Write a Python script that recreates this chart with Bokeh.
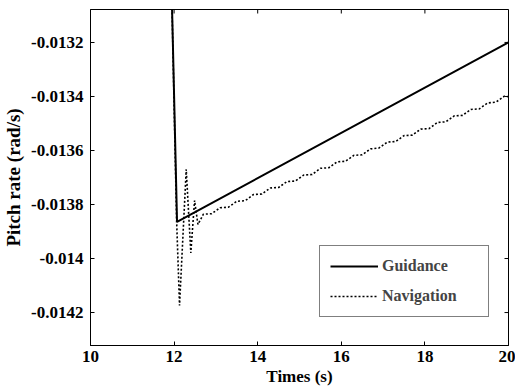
from bokeh.plotting import figure
from bokeh.models import FixedTicker, Legend, LegendItem, Range1d
from bokeh.embed import file_html
from bokeh.resources import INLINE
import math

# ---- data ----
guid_t = [11.94, 12.07, 20.0]
guid_q = [-0.01300, -0.013864, -0.0132]

nav_t = [11.94, 12.06, 12.13, 12.29, 12.40, 12.49, 12.57,
         12.7, 12.9, 13.1, 13.3, 13.5, 13.7, 13.9, 14.1, 14.3, 14.5,
         14.7, 14.9, 15.1, 15.3, 15.5, 15.7, 15.9, 16.1, 16.3, 16.5,
         16.7, 16.9, 17.1, 17.3, 17.5, 17.7, 17.9, 18.1, 18.3, 18.5,
         18.7, 18.9, 19.1, 19.3, 19.5, 19.7, 19.9, 20.0]
nav_q = [-0.01300, -0.01386, -0.014174, -0.01367, -0.013979, -0.013785, -0.013874,
         -0.013836, -0.013834, -0.013812, -0.013810, -0.013788, -0.013786, -0.013763,
         -0.013761, -0.013739, -0.013737, -0.013715, -0.013713, -0.013691, -0.013689,
         -0.013666, -0.013664, -0.013642, -0.013640, -0.013618, -0.013616, -0.013594,
         -0.013591, -0.013569, -0.013567, -0.013545, -0.013543, -0.013521, -0.013519,
         -0.013496, -0.013494, -0.013472, -0.013470, -0.013448, -0.013446, -0.013424,
         -0.013421, -0.013399, -0.013401]

x_ticks = [10, 12, 14, 16, 18, 20]
y_ticks = [-0.0142, -0.014, -0.0138, -0.0136, -0.0134, -0.0132]
y_tick_labels = ["-0.0142", "-0.014", "-0.0138", "-0.0136", "-0.0134", "-0.0132"]

FONT = "Liberation Serif"
X0, X1 = 10, 20
Y0, Y1 = -0.014322, -0.013078

p = figure(width=515, height=390, output_backend="svg", toolbar_location=None,
           x_range=Range1d(X0, X1), y_range=Range1d(Y0, Y1),
           min_border_left=88, min_border_right=7, min_border_top=9, min_border_bottom=45)
p.background_fill_color = "white"
p.border_fill_color = "white"
p.outline_line_color = "black"
p.outline_line_width = 1
p.xgrid.visible = False
p.ygrid.visible = False

r_g = p.line(guid_t, guid_q, line_color="black", line_width=2)
r_n = p.line(nav_t, nav_q, line_color="black", line_width=1.6, line_dash="2 2")

# inner tick marks on the top and right edges (clipped to the frame)
p.scatter(x_ticks, [Y1] * len(x_ticks), marker="dash", size=8, angle=math.pi / 2,
          line_color="black", line_width=1)
p.scatter([X1] * len(y_ticks), y_ticks, marker="dash", size=8,
          line_color="black", line_width=1)

def style(ax, ticks):
    ax.ticker = FixedTicker(ticks=ticks)
    ax.major_tick_in = 4
    ax.major_tick_out = 0
    ax.minor_tick_in = 0
    ax.minor_tick_out = 0
    ax.axis_line_color = "black"
    ax.major_tick_line_color = "black"
    ax.major_label_text_font = FONT
    ax.major_label_text_font_style = "bold"
    ax.major_label_text_color = "black"
    ax.major_label_text_font_size = "17px"
    ax.axis_label_text_font = FONT
    ax.axis_label_text_font_style = "bold"
    ax.axis_label_text_color = "black"

xa = p.xaxis[0]
style(xa, x_ticks)
xa.axis_label = "Times (s)"
xa.axis_label_text_font_size = "17px"
xa.major_label_standoff = 5
xa.axis_label_standoff = 2

ya = p.yaxis[0]
style(ya, y_ticks)
ya.major_label_overrides = {v: s for v, s in zip(y_ticks, y_tick_labels)}
ya.axis_label = "Pitch rate (rad/s)"
ya.axis_label_text_font_size = "19px"
ya.major_label_standoff = 7
ya.axis_label_standoff = 4

legend = Legend(items=[LegendItem(label="Guidance", renderers=[r_g]),
                       LegendItem(label="Navigation", renderers=[r_n])],
                location=(229, 28))
legend.border_line_color = "black"
legend.border_line_width = 1
legend.background_fill_color = "white"
legend.label_text_font = FONT
legend.label_text_font_style = "bold"
legend.label_text_font_size = "16px"
legend.glyph_width = 48
legend.glyph_height = 20
legend.label_height = 20
legend.label_width = 96
legend.label_standoff = 4
legend.padding = 10
legend.spacing = 10
legend.margin = 0
p.add_layout(legend, "center")

open("out.html", "w").write(file_html(p, INLINE))
